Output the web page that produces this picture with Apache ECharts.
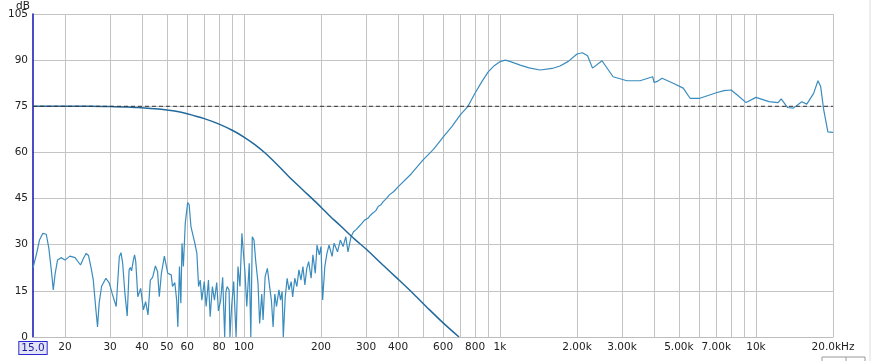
<!DOCTYPE html>
<html>
<head>
<meta charset="utf-8">
<script src="https://cdn.jsdelivr.net/npm/echarts@6/dist/echarts.min.js"></script>
<style>
  html, body { margin: 0; padding: 0; background: #fff; }
  #chart { width: 873px; height: 361px; }
</style>
</head>
<body>
<div id="chart"></div>
<script>
// measured response (Hz / dB)
var measFreq = [15.0, 15.1, 15.5, 15.9, 16.4, 16.9, 17.3, 17.7, 18.0, 18.3, 18.7, 19.3, 20.0, 20.9, 21.9, 23.0,
  23.6, 24.2, 24.7, 25.3, 25.8, 26.4, 26.8, 27.2, 27.8, 28.9, 29.8, 30.6, 31.7, 32.2, 32.6, 33.1,
  33.6, 34.3, 35.0, 35.6, 36.0, 36.4, 37.0, 37.4, 37.8, 38.5, 39.5, 40.5, 41.3, 42.2,
  43.1, 44.0, 45.1, 46.0, 46.7, 47.6, 48.9, 50.4, 52.0, 52.6, 53.7, 54.6, 55.2, 56.0, 56.7, 57.3,
  58.0, 59.0, 60.3, 61.1, 62.1, 62.9, 64.3, 65.5, 66.5, 67.5, 68.5, 70.0, 71.2, 72.7, 73.8, 75.3,
  76.7, 78.3, 79.5, 81.1, 82.6, 84.1, 85.0, 86.0, 87.5, 88.2, 89.5, 91.2, 93.2, 94.8, 96.5, 98.2, 99.6, 101,
  102.6, 104.9, 106.4, 107.8, 109.5, 111.1, 113.5, 115.2, 117.4, 118.8, 121, 123.5, 126, 128, 130, 132,
  134, 137, 139, 141, 142.5, 145, 147.5, 150, 153, 155, 158, 161, 164, 167, 170, 173,
  176, 179, 183, 186, 190, 193, 197, 200, 203, 207, 211, 215, 221, 225, 232, 238,
  244, 250, 255, 262, 268, 275, 285, 296, 305, 312, 319, 327, 335, 342, 350, 360, 370, 385, 400,
  450, 500, 550, 600, 650, 700, 750, 800, 850, 900, 950, 1000, 1050, 1100, 1200, 1300, 1434, 1600, 1717, 1850,
  2000, 2100, 2200, 2300, 2505, 2766, 3136, 3525, 3950, 4000, 4100, 4300, 4750, 5200, 5530, 6040, 7000,
  7500, 8000, 8500, 9150, 10000, 11250, 12200, 12550, 13300, 14000, 15100, 15800, 16800, 17470, 17900, 18400,
  19100, 20000];
var measDb = [22.5, 22.0, 27.2, 31.5, 33.7, 33.4, 28.8, 21.5, 15.3, 20.5, 25.0, 25.8, 25.0, 26.3, 25.8, 23.4,
  25.5, 27.2, 26.5, 22.5, 18.5, 9.0, 3.3, 11.0, 16.5, 19.1, 17.5, 14.0, 9.9, 19.0, 26.1, 27.4,
  24.0, 14.0, 6.8, 21.8, 22.6, 21.5, 25.0, 26.7, 24.5, 13.1, 15.8, 8.8, 11.5, 7.2,
  18.5, 19.4, 23.1, 21.2, 13.1, 20.7, 26.3, 20.7, 20.2, 16.4, 17.7, 12.0, 3.3, 22.9, 11.0, 30.5,
  22.9, 37.0, 43.7, 43.0, 35.9, 36.4, 30.5, 27.2, 16.4, 18.5, 12.0, 18.0, 9.9, 18.5, 6.6, 16.4,
  12.0, 17.7, 8.5, 11.8, 19.4, 0, 14.5, 16.4, 15.3, 0, 9.9, 18.0, 0, 22.9, 16.4, 33.7, 34.2, 20.7,
  9.9, 24.0, 0, 32.6, 31.5, 25.0, 17.5, 4.4, 14.0, 5.5, 19.6, 22.3, 16.4, 12.0, 3.3, 14.0,
  9.9, 15.3, 12.0, 14.8, 0, 13.0, 19.1, 15.3, 18.0, 13.0, 19.1, 16.4, 21.8, 18.5, 22.9, 16.9,
  22.3, 24.5, 19.1, 26.7, 20.7, 29.9, 26.7, 29.4, 12.0, 22.9, 27.2, 29.9, 26.2, 30.5, 27.7, 31.5,
  29.4, 32.6, 27.7, 32.6, 34.2, 35.0, 36.4, 38.0, 38.6, 39.6, 40.3, 41.0, 42.5, 42.9, 44.0, 45.0, 46.2, 47.3, 48.8,
  53.0, 57.5, 61.0, 65.0, 68.5, 72.2, 75.0, 79.3, 83.0, 86.2, 88.2, 89.5, 90.0, 89.5, 88.4, 87.5, 86.8, 87.3, 88.1, 89.6,
  92.0, 92.4, 91.4, 87.4, 89.8, 84.6, 83.3, 83.3, 84.6, 82.8, 83.0, 84.1, 82.5, 80.9, 77.6, 77.6, 79.4,
  80.1, 80.3, 78.5, 76.2, 77.9, 76.5, 76.2, 77.4, 74.6, 74.4, 76.5, 75.7, 79.2, 83.3, 81.4, 73.8,
  66.7, 66.5];

// low-pass target curve
var lpFreq = [15, 20, 25, 30, 35, 40, 45, 50, 55, 60, 70, 80, 90, 100, 110, 121, 135, 150, 170, 190,
  215, 240, 270, 300, 350, 400, 460, 530, 600, 692];
var lpDb = [75, 75, 75, 74.9, 74.8, 74.5, 74.2, 73.8, 73.3, 72.6, 71.0, 69.2, 67.2, 65.0, 62.6, 59.8, 56.0,
  52.1, 47.8, 44.0, 39.6, 35.9, 31.9, 28.6, 23.3, 18.8, 14.0, 8.9, 4.6, 0];

var refLevel = 75;

var gridFreqs = [20, 30, 40, 50, 60, 70, 80, 90, 100, 200, 300, 400, 500, 600, 700, 800, 900,
  1000, 2000, 3000, 4000, 5000, 6000, 7000, 8000, 9000, 10000, 20000];
var labelFreqs = [15, 20, 30, 40, 50, 60, 80, 100, 200, 300, 400, 600, 800, 1000, 2000, 3000, 5000, 7000, 10000, 20000];
var labelTexts = ['15.0', '20', '30', '40', '50', '60', '80', '100', '200', '300', '400', '600', '800', '1k',
  '2.00k', '3.00k', '5.00k', '7.00k', '10k', '20.0kHz'];

function pairs(xs, ys) {
  var out = [];
  for (var i = 0; i < xs.length; i++) out.push([xs[i], ys[i]]);
  return out;
}

var dom = document.getElementById('chart');
var myChart = echarts.init(dom);
var font = 'DejaVu Sans';

var option = {
  animation: false,
  backgroundColor: '#fff',
  grid: { left: 33, right: 40, top: 14, bottom: 24 },
  graphic: [
    { type: 'text', left: 16, top: 1, style: { text: 'dB', font: '10.5px "DejaVu Sans"', fill: '#222' } },
    { type: 'rect', shape: { x: 822, y: 357, width: 43, height: 8 }, style: { fill: '#fff', stroke: '#999', lineWidth: 1 } },
    { type: 'line', shape: { x1: 846, y1: 357, x2: 846, y2: 361 }, style: { stroke: '#999' } },
    { type: 'line', shape: { x1: 870, y1: 0, x2: 870, y2: 361 }, style: { stroke: '#ddd', lineWidth: 1 } }
  ],
  xAxis: {
    type: 'log',
    logBase: 10,
    min: 15,
    max: 20000,
    axisLine: { show: true, lineStyle: { color: '#bdbdbd' } },
    axisTick: { show: false, customValues: gridFreqs },
    splitLine: { show: true, lineStyle: { color: '#c4c4c4', width: 1 } },
    axisLabel: {
      customValues: labelFreqs,
      margin: 5,
      fontFamily: font,
      fontSize: 10.5,
      color: '#222',
      formatter: function (v) {
        var i = labelFreqs.indexOf(Math.round(v));
        if (i === 0) return '{b|' + labelTexts[0] + '}';
        return i >= 0 ? labelTexts[i] : '';
      },
      rich: {
        b: {
          fontFamily: font, fontSize: 10.5, color: '#1a1a9a',
          backgroundColor: '#e4e4f8', borderColor: '#2a2ad0', borderWidth: 1,
          padding: [1, 2, 0, 2]
        }
      }
    }
  },
  yAxis: {
    type: 'value',
    min: 0,
    max: 105,
    interval: 15,
    axisLine: { show: true, lineStyle: { color: '#1010b0', width: 1.5 } },
    axisTick: { show: false },
    splitLine: { show: true, lineStyle: { color: '#c4c4c4', width: 1 } },
    axisLabel: { margin: 5, fontFamily: font, fontSize: 10.5, color: '#222' }
  },
  series: [
    {
      name: 'Measured',
      type: 'line',
      showSymbol: false,
      data: pairs(measFreq, measDb),
      lineStyle: { color: '#3a8cbe', width: 1.2 },
      z: 2
    },
    {
      name: 'Low pass',
      type: 'line',
      showSymbol: false,
      smooth: 0.3,
      data: pairs(lpFreq, lpDb),
      lineStyle: { color: '#22699b', width: 1.5 },
      z: 3
    },
    {
      name: 'Reference',
      type: 'line',
      showSymbol: false,
      data: [[15, refLevel], [20000, refLevel]],
      lineStyle: { color: '#333', width: 1, type: [4, 3] },
      z: 4
    }
  ]
};
if (option && typeof option === 'object') {
  myChart.setOption(option, true);
}
</script>
</body>
</html>
